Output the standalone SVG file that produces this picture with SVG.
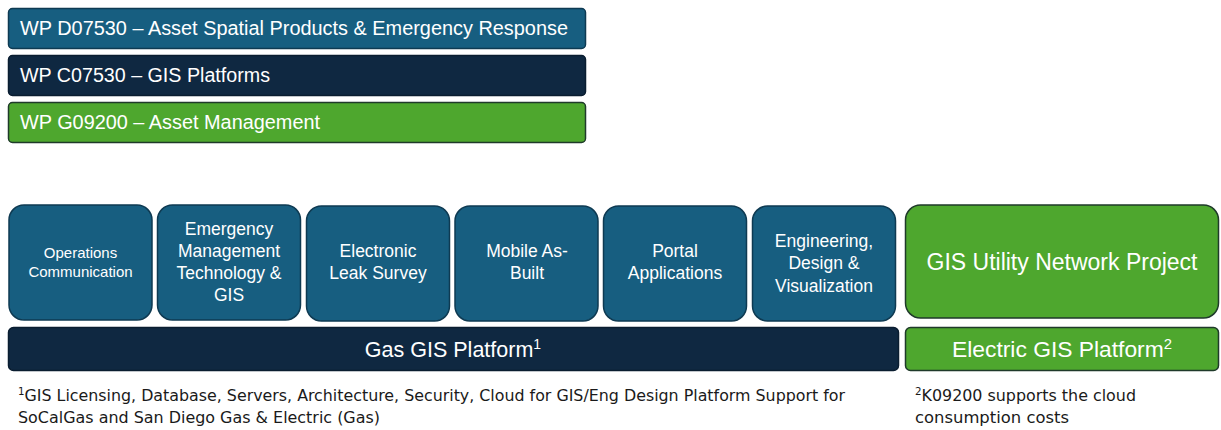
<svg xmlns="http://www.w3.org/2000/svg" width="1221" height="430" viewBox="0 0 1221 430">
<style>
.blue{fill:#175E80;stroke:#0E3A52;stroke-width:1.5}
.navy{fill:#0F2841;stroke:#0A1D30;stroke-width:1.5}
.green{fill:#4EA72E;stroke:#1F3A2A;stroke-width:1.5}
text{font-family:"Liberation Sans",Arial,sans-serif;fill:#FFFFFF}
.hdr{font-size:19.5px}
.box{font-size:17.5px;text-anchor:middle}
.sm{font-size:15px;text-anchor:middle}
.plat{font-size:21.5px;text-anchor:middle}
.big{font-size:23px;text-anchor:middle}
.note{font-family:"Liberation Sans Narrow","DejaVu Sans Condensed","Liberation Sans",sans-serif;font-size:15.5px;fill:#1A1A1A}
</style>
<rect width="1221" height="430" fill="#FFFFFF"/>
<g id="wp-d07530"><rect class="blue" x="8.5" y="8.5" width="577" height="40" rx="4"/><text class="hdr" x="20" y="35" textLength="548" lengthAdjust="spacingAndGlyphs">WP D07530 – Asset Spatial Products &amp; Emergency Response</text></g>
<g id="wp-c07530"><rect class="navy" x="8.5" y="55.5" width="577" height="40" rx="4"/><text class="hdr" x="20" y="82" textLength="250" lengthAdjust="spacingAndGlyphs">WP C07530 – GIS Platforms</text></g>
<g id="wp-g09200"><rect class="green" x="8.5" y="102.5" width="577" height="40" rx="4"/><text class="hdr" x="20" y="129" textLength="300" lengthAdjust="spacingAndGlyphs">WP G09200 – Asset Management</text></g>

<g id="ops-comm"><rect class="blue" x="9" y="205" width="143" height="115" rx="15"/><text class="sm" x="80.5" y="258">Operations</text><text class="sm" x="80.5" y="277">Communication</text></g>
<g id="emergency"><rect class="blue" x="157.5" y="205" width="143" height="115" rx="15"/><text class="box" x="229" y="235">Emergency</text><text class="box" x="229" y="257">Management</text><text class="box" x="229" y="279">Technology &amp;</text><text class="box" x="229" y="301">GIS</text></g>
<g id="leak-survey"><rect class="blue" x="306.5" y="206" width="143" height="115" rx="15"/><text class="box" x="378" y="257">Electronic</text><text class="box" x="378" y="279">Leak Survey</text></g>
<g id="mobile-asbuilt"><rect class="blue" x="455" y="206" width="143" height="115" rx="15"/><text class="box" x="527" y="257">Mobile As-</text><text class="box" x="527" y="279">Built</text></g>
<g id="portal-apps"><rect class="blue" x="603.5" y="206" width="143" height="115" rx="15"/><text class="box" x="675" y="257">Portal</text><text class="box" x="675" y="279">Applications</text></g>
<g id="eng-design"><rect class="blue" x="752.5" y="206" width="143" height="115" rx="15"/><text class="box" x="824" y="247">Engineering,</text><text class="box" x="824" y="269">Design &amp;</text><text class="box" x="824" y="292">Visualization</text></g>
<g id="utility-network"><rect class="green" x="905.5" y="205" width="313" height="113" rx="15"/><text class="big" x="1062" y="270">GIS Utility Network Project</text></g>

<g id="gas-platform"><rect class="navy" x="8.5" y="327.5" width="890" height="43" rx="5"/><text class="plat" x="453" y="357">Gas GIS Platform<tspan font-size="14" dy="-8">1</tspan></text></g>
<g id="electric-platform"><rect class="green" x="905.5" y="327.5" width="313" height="43" rx="5"/><text class="plat" x="1062" y="357" textLength="220" lengthAdjust="spacingAndGlyphs">Electric GIS Platform<tspan font-size="14" dy="-8">2</tspan></text></g>

<g id="notes">
<text class="note" x="18" y="401" textLength="827" lengthAdjust="spacingAndGlyphs"><tspan font-size="10" dy="-6">1</tspan><tspan dy="6">GIS Licensing, Database, Servers, Architecture, Security, Cloud for GIS/Eng Design Platform Support for</tspan></text>
<text class="note" x="18" y="423" textLength="362" lengthAdjust="spacingAndGlyphs">SoCalGas and San Diego Gas &amp; Electric (Gas)</text>
<text class="note" x="915" y="401" textLength="221" lengthAdjust="spacingAndGlyphs"><tspan font-size="10" dy="-6">2</tspan><tspan dy="6">K09200 supports the cloud</tspan></text>
<text class="note" x="915" y="423" textLength="154" lengthAdjust="spacingAndGlyphs">consumption costs</text>
</g>
</svg>
